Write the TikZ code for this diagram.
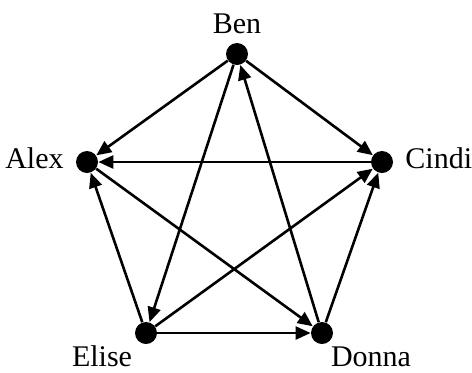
\documentclass[tikz,border=0pt]{standalone}
\usepackage{fontspec}
\setmainfont{Liberation Serif}
\usetikzlibrary{arrows.meta}

\begin{document}
\begin{tikzpicture}[x=0.5pt, y=-0.5pt, >={Triangle[length=7.5pt, width=6.5pt]},
    person/.style={circle, fill=black, inner sep=0pt, minimum size=11pt},
    tag/.style={inner sep=0pt, font=\fontsize{15}{18}\selectfont},
    link/.style={->, line width=1.3pt}]
  \useasboundingbox (0,0) rectangle (472,372);

  % people
  \node[person] (ben) at (237,54) {};
  \node[person] (alex) at (87,162) {};
  \node[person] (cindi) at (382,162) {};
  \node[person] (elise) at (146,333) {};
  \node[person] (donna) at (322,333) {};

  % names
  \node[tag, anchor=base] (bentag) at (237,33) {Ben};
  \node[tag, anchor=base east] (alextag) at (64,168) {Alex};
  \node[tag, anchor=base west] (cinditag) at (405,168) {Cindi};
  \node[tag, anchor=base] (elisetag) at (102,366) {Elise};
  \node[tag, anchor=base] (donnatag) at (371,366) {Donna};

  \draw[link] (ben) -- (alex);
  \draw[link] (ben) -- (cindi);
  \draw[link] (ben) -- (elise);
  \draw[link] (donna) -- (ben);
  \draw[link] (cindi) -- (alex);
  \draw[link] (alex) -- (donna);
  \draw[link] (elise) -- (alex);
  \draw[link] (elise) -- (cindi);
  \draw[link] (elise) -- (donna);
  \draw[link] (donna) -- (cindi);
\end{tikzpicture}
\end{document}
